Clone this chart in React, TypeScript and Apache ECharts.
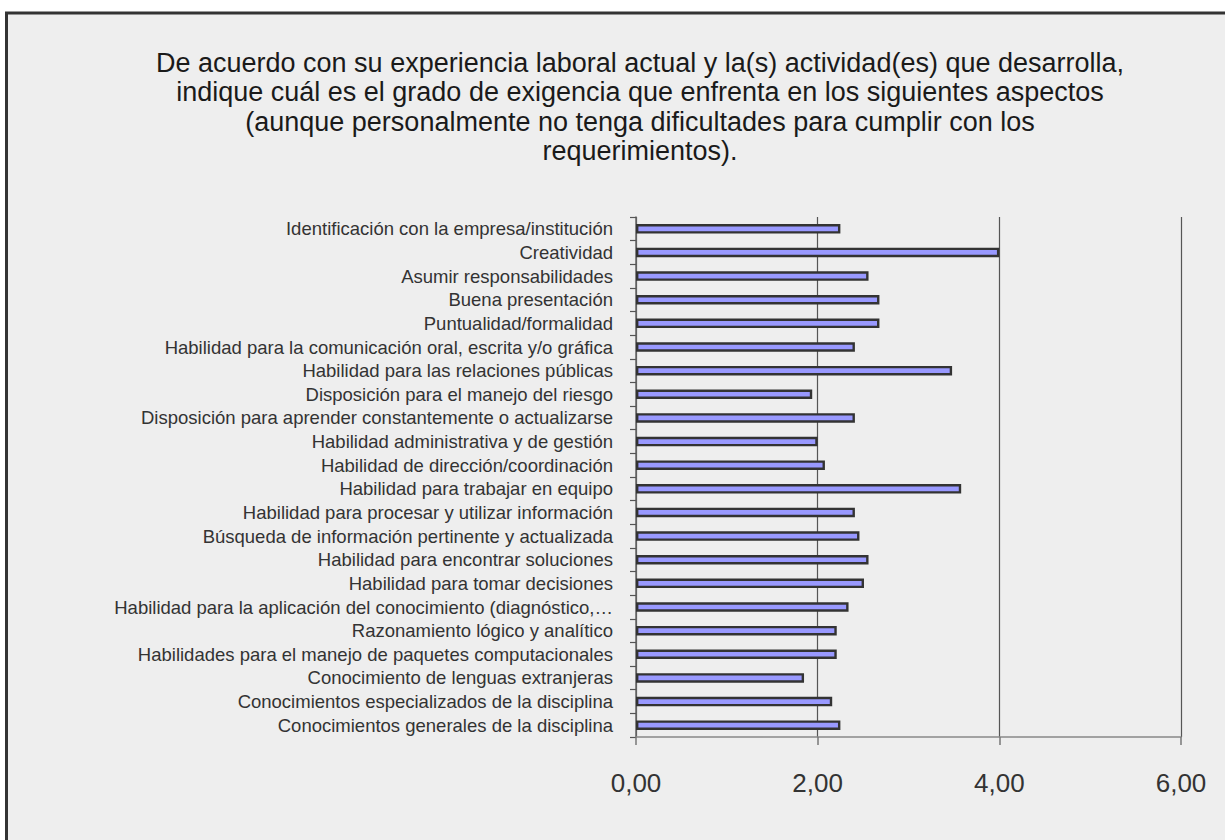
import React, { useEffect, useRef } from "react";
import * as echarts from "echarts";

const titleLines = [
  "De acuerdo con su experiencia laboral actual y la(s) actividad(es) que desarrolla,",
  "indique cuál es el grado de exigencia que enfrenta en los siguientes aspectos",
  "(aunque personalmente no tenga dificultades para cumplir con los",
  "requerimientos).",
];

const categories = [
  "Identificación con la empresa/institución",
  "Creatividad",
  "Asumir responsabilidades",
  "Buena presentación",
  "Puntualidad/formalidad",
  "Habilidad para la comunicación oral, escrita y/o gráfica",
  "Habilidad para las relaciones públicas",
  "Disposición para el manejo del riesgo",
  "Disposición para aprender constantemente o actualizarse",
  "Habilidad administrativa y de gestión",
  "Habilidad de dirección/coordinación",
  "Habilidad para trabajar en equipo",
  "Habilidad para procesar y utilizar información",
  "Búsqueda de información pertinente y actualizada",
  "Habilidad para encontrar soluciones",
  "Habilidad para tomar decisiones",
  "Habilidad para la aplicación del conocimiento (diagnóstico,…",
  "Razonamiento lógico y analítico",
  "Habilidades para el manejo de paquetes computacionales",
  "Conocimiento de lenguas extranjeras",
  "Conocimientos especializados de la disciplina",
  "Conocimientos generales de la disciplina",
];

const values = [
  2.25, 4.0, 2.56, 2.68, 2.68, 2.41, 3.48, 1.94, 2.41, 2.0, 2.08, 3.58, 2.41,
  2.46, 2.56, 2.51, 2.34, 2.21, 2.21, 1.85, 2.16, 2.25,
];

const xMin = 0;
const xMax = 6;
const xInterval = 2;

const FONT = "'Liberation Sans', Arial, sans-serif";

export default function App() {
  const ref = useRef<HTMLDivElement>(null);

  useEffect(() => {
    if (!ref.current) return;
    const chart = echarts.init(ref.current, null, { renderer: "svg" });
    chart.setOption({
      animation: false,
      backgroundColor: "#ffffff",
      graphic: [
        {
          type: "rect",
          z: -10,
          silent: true,
          shape: { x: 6.5, y: 13, width: 1240, height: 850 },
          style: { fill: "#eeeeee", stroke: "#333333", lineWidth: 3 },
        },
        {
          type: "text",
          z: 10,
          x: 640,
          y: 48,
          style: {
            text: titleLines.join("\n"),
            textAlign: "center",
            textVerticalAlign: "top",
            fontFamily: FONT,
            fontSize: 27,
            lineHeight: 29.5,
            fill: "#1a1a1a",
          },
        },
      ],
      grid: {
        left: 636,
        right: 44,
        top: 217,
        bottom: 103,
        containLabel: false,
      },
      xAxis: {
        type: "value",
        min: xMin,
        max: xMax,
        interval: xInterval,
        axisLine: { show: true, lineStyle: { color: "#888888", width: 1.5 } },
        axisTick: {
          show: true,
          length: 8,
          inside: false,
          lineStyle: { color: "#777777", width: 1.5 },
        },
        axisLabel: {
          fontFamily: FONT,
          fontSize: 26,
          color: "#333333",
          margin: 33,
          formatter: (v: number) => v.toFixed(2).replace(".", ","),
        },
        splitLine: { show: true, lineStyle: { color: "#555555", width: 1.2 } },
      },
      yAxis: {
        type: "category",
        data: categories,
        inverse: true,
        axisLine: { show: true, lineStyle: { color: "#666666", width: 1.5 } },
        axisTick: {
          show: true,
          length: 6,
          interval: 0,
          alignWithLabel: false,
          lineStyle: { color: "#555555", width: 1.2 },
        },
        axisLabel: {
          interval: 0,
          fontFamily: FONT,
          fontSize: 18.5,
          color: "#333333",
          margin: 23,
        },
        splitLine: { show: false },
      },
      series: [
        {
          type: "bar",
          data: values,
          barWidth: 9.5,
          itemStyle: {
            color: "#9999ff",
            borderColor: "#333333",
            borderWidth: 2.4,
          },
        },
      ],
    });
    return () => chart.dispose();
  }, []);

  return (
    <div
      ref={ref}
      style={{
        position: "absolute",
        left: 0,
        top: 0,
        width: 1225,
        height: 840,
      }}
    />
  );
}
